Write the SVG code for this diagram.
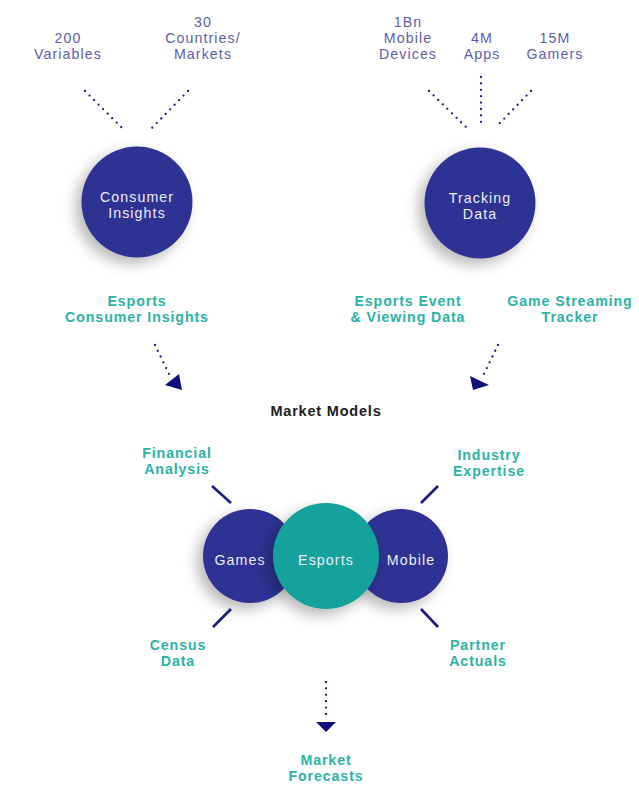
<svg xmlns="http://www.w3.org/2000/svg" width="639" height="785" viewBox="0 0 639 785">
<defs>
<filter id="sh" x="-50%" y="-50%" width="200%" height="200%">
<feDropShadow dx="-6" dy="6" stdDeviation="7" flood-color="#000" flood-opacity="0.28"/>
</filter>
<style>
.stat{font-family:"Liberation Sans",Arial,sans-serif;font-size:14.2px;letter-spacing:1.1px;fill:#5d5db0;text-anchor:middle}
.teal{font-family:"Liberation Sans",Arial,sans-serif;font-size:14.2px;letter-spacing:0.9px;font-weight:bold;fill:#2cb3a6;text-anchor:middle}
.inner{font-family:"Liberation Sans",Arial,sans-serif;font-size:14.2px;letter-spacing:1.1px;fill:#ececf6;text-anchor:middle}
.title{font-family:"Liberation Sans",Arial,sans-serif;font-size:14.5px;letter-spacing:0.8px;font-weight:bold;fill:#222;text-anchor:middle}
.dot{fill:none;stroke:#1b1b80;stroke-width:2.3;stroke-linecap:round;stroke-dasharray:0 6.4}
.solid{fill:none;stroke:#1b1b80;stroke-width:2.6}
.head{fill:#10107a}
.navy{fill:#2e3192}
.green{fill:#17a29c}
</style>
</defs>
<rect width="639" height="785" fill="#fff"/>

<g id="stats-left">
<text class="stat"><tspan x="68" y="43">200</tspan><tspan x="68" y="59">Variables</tspan></text>
<text class="stat"><tspan x="203" y="27">30</tspan><tspan x="203" y="43">Countries/</tspan><tspan x="203" y="59">Markets</tspan></text>
</g>
<g id="stats-right">
<text class="stat"><tspan x="408" y="27">1Bn</tspan><tspan x="408" y="43">Mobile</tspan><tspan x="408" y="59">Devices</tspan></text>
<text class="stat"><tspan x="482" y="43">4M</tspan><tspan x="482" y="59">Apps</tspan></text>
<text class="stat"><tspan x="555" y="43">15M</tspan><tspan x="555" y="59">Gamers</tspan></text>
</g>

<g id="consumer-insights">
<circle class="navy" cx="137" cy="202" r="55.5" filter="url(#sh)"/>
<text class="inner"><tspan x="137" y="202">Consumer</tspan><tspan x="137" y="218">Insights</tspan></text>
</g>
<g id="tracking-data">
<circle class="navy" cx="480" cy="203" r="55.5" filter="url(#sh)"/>
<text class="inner"><tspan x="480" y="203">Tracking</tspan><tspan x="480" y="219">Data</tspan></text>
</g>

<g id="sources">
<text class="teal"><tspan x="137" y="306">Esports</tspan><tspan x="137" y="322">Consumer Insights</tspan></text>
<text class="teal"><tspan x="408" y="306">Esports Event</tspan><tspan x="408" y="322">&amp; Viewing Data</tspan></text>
<text class="teal"><tspan x="570" y="306">Game Streaming</tspan><tspan x="570" y="322">Tracker</tspan></text>
</g>

<g id="market-models-title">
<text class="title" x="326" y="416">Market Models</text>
</g>

<g id="games">
<circle class="navy" cx="250" cy="556" r="47" filter="url(#sh)"/>
<text class="inner" x="240" y="565">Games</text>
</g>
<g id="mobile">
<circle class="navy" cx="401" cy="556" r="47" filter="url(#sh)"/>
<text class="inner" x="411" y="565">Mobile</text>
</g>
<g id="esports">
<circle class="green" cx="326" cy="556" r="53" filter="url(#sh)"/>
<text class="inner" x="326" y="565">Esports</text>
</g>

<g id="inputs">
<text class="teal"><tspan x="177" y="458">Financial</tspan><tspan x="177" y="474">Analysis</tspan></text>
<text class="teal"><tspan x="489" y="460">Industry</tspan><tspan x="489" y="476">Expertise</tspan></text>
<text class="teal"><tspan x="178" y="650">Census</tspan><tspan x="178" y="666">Data</tspan></text>
<text class="teal"><tspan x="478" y="650">Partner</tspan><tspan x="478" y="666">Actuals</tspan></text>
</g>

<g id="market-forecasts">
<text class="teal"><tspan x="326" y="765">Market</tspan><tspan x="326" y="781">Forecasts</tspan></text>
</g>

<g id="connectors">
<line class="dot" x1="85" y1="91" x2="122" y2="128"/>
<line class="dot" x1="188" y1="91" x2="152" y2="128"/>
<line class="dot" x1="429" y1="91" x2="466" y2="127"/>
<line class="dot" x1="481" y1="77" x2="481" y2="127"/>
<line class="dot" x1="531" y1="91" x2="496" y2="127"/>
<line class="dot" x1="155" y1="345" x2="170" y2="376"/>
<polygon class="head" points="165,385 182,390 179,374"/>
<line class="dot" x1="498" y1="345" x2="483" y2="376"/>
<polygon class="head" points="470,376 473,390 489,385"/>
<line class="dot" x1="326" y1="682" x2="326" y2="718"/>
<polygon class="head" points="316,722 336,722 326,732"/>
<line class="solid" x1="212" y1="486" x2="231" y2="503"/>
<line class="solid" x1="438" y1="486" x2="421" y2="503"/>
<line class="solid" x1="231" y1="609" x2="213" y2="627"/>
<line class="solid" x1="421" y1="609" x2="438" y2="627"/>
</g>
</svg>
